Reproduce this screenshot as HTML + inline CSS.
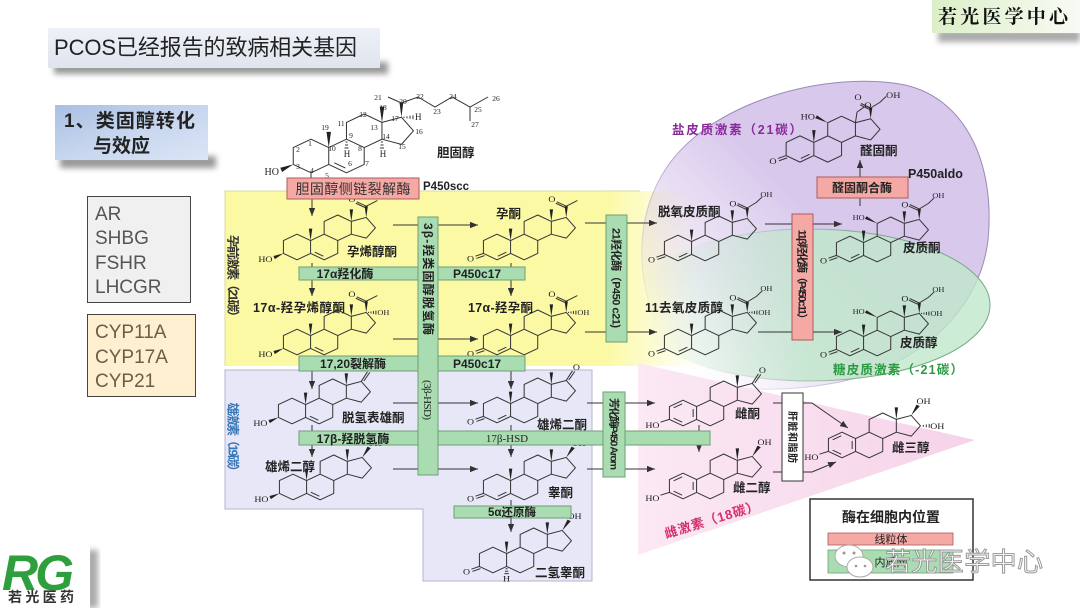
<!DOCTYPE html>
<html><head><meta charset="utf-8"><style>
html,body{margin:0;padding:0;background:#fff;}
svg{display:block}
.lb{font-family:"Liberation Sans","Noto Sans CJK SC",sans-serif;font-weight:bold;font-size:12.5px;fill:#222}
.en{font-family:"Liberation Sans","Noto Sans CJK SC",sans-serif;font-weight:bold;font-size:12px;fill:#222}
.a{font-family:"Liberation Serif",serif;font-size:10px;fill:#222}
.n{font-family:"Liberation Serif",serif;font-size:7.5px;fill:#222;text-anchor:middle}
.g{font-family:"Liberation Sans",sans-serif;font-size:19px;fill:#555}
</style></head><body>
<svg width="1080" height="608" viewBox="0 0 1080 608" xmlns="http://www.w3.org/2000/svg">
<defs>
<filter id="bl" x="-20%" y="-80%" width="140%" height="260%"><feGaussianBlur stdDeviation="3"/></filter>
<marker id="ah" viewBox="0 0 10 8" refX="10" refY="4" markerWidth="8" markerHeight="6.4" orient="auto" markerUnits="userSpaceOnUse"><path d="M0,0L10,4L0,8Z" fill="#333"/></marker>
<linearGradient id="gy" gradientUnits="userSpaceOnUse" x1="225" y1="0" x2="700" y2="0"><stop offset="0" stop-color="#fbf9a4"/><stop offset=".8" stop-color="#fbf9a4"/><stop offset="1" stop-color="#fbf9a4" stop-opacity="0"/></linearGradient>
<linearGradient id="gp" gradientUnits="userSpaceOnUse" x1="650" y1="330" x2="790" y2="190"><stop offset="0" stop-color="#d8c8ec" stop-opacity="0"/><stop offset="1" stop-color="#d8c8ec"/></linearGradient>
<linearGradient id="gps" gradientUnits="userSpaceOnUse" x1="650" y1="330" x2="790" y2="190"><stop offset="0" stop-color="#9a88b8" stop-opacity="0"/><stop offset="1" stop-color="#9a88b8"/></linearGradient>
<linearGradient id="gg" gradientUnits="userSpaceOnUse" x1="640" y1="0" x2="810" y2="0"><stop offset="0" stop-color="#bfe7ca" stop-opacity="0"/><stop offset="1" stop-color="#bfe7ca"/></linearGradient>
<linearGradient id="ggs" gradientUnits="userSpaceOnUse" x1="700" y1="0" x2="880" y2="0"><stop offset="0" stop-color="#7aa88a" stop-opacity="0"/><stop offset="1" stop-color="#7aa88a"/></linearGradient>
<linearGradient id="gt" x1="0" y1="0" x2="1" y2="0"><stop offset="0" stop-color="#fbe9f4"/><stop offset="1" stop-color="#f6d2e9"/></linearGradient>
<linearGradient id="gtitle" x1="0" y1="0" x2="0" y2="1"><stop offset="0" stop-color="#eef1f7"/><stop offset="1" stop-color="#dfe4ee"/></linearGradient>
<linearGradient id="gblue" x1="0" y1="0" x2="1" y2="1"><stop offset="0" stop-color="#a9bfe3"/><stop offset=".5" stop-color="#c7d6ef"/><stop offset="1" stop-color="#dbe5f5"/></linearGradient>
<linearGradient id="glogo" x1="0" y1="0" x2="1" y2="0"><stop offset="0" stop-color="#dcefc8"/><stop offset="1" stop-color="#f8fbf4"/></linearGradient>

<path id="rg" d="M0,-16L13.86,-8L13.86,8L0,16L-13.86,8L-13.86,-8ZM13.86,-8L27.71,-16L41.57,-8L41.57,8L27.71,16L13.86,8M27.71,-16L27.71,-32L41.57,-40L55.43,-32L55.43,-16L41.57,-8M55.43,-32L70.65,-36.94L80.05,-24L70.65,-11.06L55.43,-16" fill="none" stroke="#333" stroke-width="1" stroke-linejoin="round" vector-effect="non-scaling-stroke"/>
<path id="m19" d="M13.86,-8L12.1,-23L15.6,-23Z" fill="#222"/>
<path id="m18" d="M55.43,-32L53.7,-47L57.2,-47Z" fill="#222"/>
<path id="d5" d="M18.2,6.5L26.9,11.5" stroke="#333" stroke-width="1" vector-effect="non-scaling-stroke"/>
<path id="d4" d="M0.85,11.47L9.51,6.47" stroke="#333" stroke-width="1" vector-effect="non-scaling-stroke"/>
<path id="k3" d="M-13.86,8L-22,11.5M-12.8,10.8L-21,14.3" stroke="#333" stroke-width="1" vector-effect="non-scaling-stroke"/>
<path id="w3" d="M-13.86,8L-24,11.2L-22.6,15.2Z" fill="#222"/>
<g id="ac"><path d="M70.65,-36.94L69,-51L72.3,-51Z" fill="#222"/><path d="M70.65,-51L61,-56.5M69.6,-49.2L60,-54.7M70.65,-51L82,-58" stroke="#333" stroke-width="1" fill="none" vector-effect="non-scaling-stroke"/></g>
<path id="h17" d="M73,-37.6v1.4M75.5,-38.2v2.6M78,-38.8v3.8M80.5,-39.4v5" stroke="#333" stroke-width="1" vector-effect="non-scaling-stroke"/>
<g id="cs"><path d="M70.65,-36.94L69,-50L72.3,-50Z" fill="#222"/><path d="M70.65,-50L61,-55.5M69.6,-48.2L60,-53.7M70.65,-50L80,-57L86,-64" stroke="#333" stroke-width="1" fill="none" vector-effect="non-scaling-stroke"/></g>
<path id="k17" d="M70.65,-36.94L77,-49M73.3,-37.5L79.4,-48.3" stroke="#333" stroke-width="1" vector-effect="non-scaling-stroke"/>
<path id="o17" d="M70.65,-36.94L76,-50.5L79.4,-48.6Z" fill="#222"/>
<path id="o11" d="M27.71,-32L16.9,-41L15.2,-37.6Z" fill="#222"/>
<path id="ar" d="M-0.85,-11.47L-9.51,-6.47M-9.51,6.47L-0.85,11.47M10.36,-5L10.36,5M-13.86,8L-23,11.5" stroke="#333" stroke-width="1" vector-effect="non-scaling-stroke"/>
<path id="h5" d="M12.8,11h2.1M12.2,14h3.3M11.6,17h4.5" stroke="#333" stroke-width="1" vector-effect="non-scaling-stroke"/>
<path id="h16" d="M83,-25.2v2.4M86,-25.8v3.6M89,-26.4v4.8" stroke="#333" stroke-width="1" vector-effect="non-scaling-stroke"/>
</defs>

<rect width="1080" height="608" fill="#fff"/>

<!-- title -->
<rect x="54" y="62" width="334" height="12" fill="#999" filter="url(#bl)"/>
<rect x="48" y="28" width="332" height="40" fill="url(#gtitle)"/>
<text x="54" y="55" font-family="Liberation Sans, Noto Sans CJK SC, sans-serif" font-size="22" fill="#222" textLength="303">PCOS已经报告的致病相关基因</text>

<rect x="60" y="156" width="156" height="12" fill="#999" filter="url(#bl)"/>
<rect x="55" y="105" width="153" height="55" fill="url(#gblue)"/>
<text x="64" y="127" font-family="Liberation Sans, Noto Sans CJK SC, sans-serif" font-size="19" font-weight="bold" fill="#222" textLength="131">1、类固醇转化</text>
<text x="93" y="152" font-family="Liberation Sans, Noto Sans CJK SC, sans-serif" font-size="19" font-weight="bold" fill="#222">与效应</text>

<!-- gene boxes -->
<rect x="87.5" y="196.5" width="103" height="106" fill="#f0f0f0" stroke="#444" stroke-width="1"/>
<text class="g" x="95" y="220">AR</text>
<text class="g" x="95" y="244">SHBG</text>
<text class="g" x="95" y="269">FSHR</text>
<text class="g" x="95" y="293">LHCGR</text>
<rect x="87.5" y="314.5" width="108" height="82" fill="#fdefcf" stroke="#444" stroke-width="1"/>
<text class="g" x="95" y="338" style="fill:#6a5e48">CYP11A</text>
<text class="g" x="95" y="363" style="fill:#6a5e48">CYP17A</text>
<text class="g" x="95" y="387" style="fill:#6a5e48">CYP21</text>

<!-- logos -->
<rect x="86" y="550" width="12" height="58" fill="#aaa" filter="url(#bl)"/>
<rect x="0" y="546" width="90" height="62" fill="#fff"/>
<text x="2" y="590" font-family="Liberation Sans, sans-serif" font-size="50" font-style="italic" font-weight="bold" fill="#2f9e3c" letter-spacing="-3">RG</text>
<text x="8" y="602" font-family="Liberation Sans, Noto Sans CJK SC, sans-serif" font-size="14" font-weight="bold" fill="#333" textLength="66">若光医药</text>

<rect x="938" y="30" width="142" height="12" fill="#aaa" filter="url(#bl)"/>
<rect x="932" y="0" width="148" height="33" fill="url(#glogo)"/>
<text x="938" y="23" font-family="Noto Serif CJK SC, serif" font-size="19" font-weight="bold" fill="#111" textLength="130">若光医学中心</text>

<!-- regions -->
<rect x="225" y="191" width="475" height="175" fill="url(#gy)"/>
<path d="M225,366V191H640" fill="none" stroke="#dcdaa0" stroke-width="1"/>
<path d="M700,380C645,340 620,240 665,170C710,100 830,70 905,85C970,100 995,170 988,240C980,310 920,365 840,382C790,392 735,392 700,380Z" fill="url(#gp)" stroke="url(#gps)" stroke-width="1"/>
<ellipse cx="810" cy="305" rx="180" ry="76" fill="url(#gg)" fill-opacity=".8" stroke="url(#ggs)" stroke-width="1"/>
<polygon points="638,363 975,440 638,555" fill="url(#gt)"/>
<path d="M225,370H592V581H423V509H225Z" fill="#e7e7f7" stroke="#b4b4cc" stroke-width="1"/>

<!-- arrows -->
<path d="M311,173V178" stroke="#333" stroke-width="1"/>
<g stroke="#333" stroke-width="1" fill="none" marker-end="url(#ah)">
<path d="M312,199V216"/>
<path d="M312,263V296"/>
<path d="M511,263V296"/>
<path d="M312,360V389"/>
<path d="M511,360V389"/>
<path d="M312,425V457"/>
<path d="M511,425V457"/>
<path d="M511,500V532"/>
<path d="M393,225H478"/>
<path d="M393,339H478"/>
<path d="M393,403H478"/>
<path d="M393,469H478"/>
<path d="M585,223H657"/>
<path d="M585,332H657"/>
<path d="M765,224H842"/>
<path d="M758,332H842"/>
<path d="M860,206V160"/>
<path d="M587,403H655"/>
<path d="M587,469H655"/>
<path d="M699,425V452"/>
<path d="M773,403H812L848,428"/>
<path d="M773,472H812L836,462"/>
</g>

<!-- cholesterol -->
<g transform="translate(311,156) scale(1.28,1.05)">
<use href="#rg"/><use href="#m19"/><use href="#m18"/><use href="#d5"/><use href="#w3"/>
</g>
<g stroke="#333" stroke-width="1" fill="none">
<path d="M401.4,103L388,97M401.4,103L418,97L435,107L452,97L470,107L488,97M470,107V121"/>
<path d="M404,116.6v1.4M407,116.2v2.2M410,115.8v3M413,115.4v3.8"/>
<path d="M345.5,142h2M345,145h3M344.5,148h4"/>
<path d="M381,142h2M380.5,145h3M380,148h4"/>
</g>
<path d="M401.4,117.2L399.6,103L403.2,103Z" fill="#222"/>
<text class="a" x="279" y="175" text-anchor="end">HO</text>
<text class="n" x="325" y="130">19</text><text class="n" x="310" y="146">1</text><text class="n" x="298" y="152">2</text>
<text class="n" x="298" y="169">3</text><text class="n" x="312" y="173">4</text><text class="n" x="327" y="178">5</text>
<text class="n" x="332" y="151">10</text><text class="n" x="350" y="166">6</text><text class="n" x="367" y="166">7</text>
<text class="n" x="360" y="151">8</text><text class="n" x="351" y="138">9</text><text class="n" x="341" y="126">11</text>
<text class="n" x="363" y="117">12</text><text class="n" x="374" y="130">13</text><text class="n" x="383" y="110">18</text>
<text class="n" x="386" y="139">14</text><text class="n" x="402" y="149">15</text><text class="n" x="419" y="134">16</text>
<text class="n" x="395" y="121">17</text><text class="n" x="403" y="104">20</text><text class="n" x="378" y="100">21</text>
<text class="n" x="420" y="99">22</text><text class="n" x="437" y="114">23</text><text class="n" x="453" y="99">24</text>
<text class="n" x="478" y="112">25</text><text class="n" x="496" y="101">26</text><text class="n" x="475" y="127">27</text>
<text class="a" x="347" y="157" text-anchor="middle" style="font-size:9px">H</text>
<text class="a" x="383" y="157" text-anchor="middle" style="font-size:9px">H</text>
<text class="a" x="415" y="120" style="font-size:9px">H</text>
<text class="lb" x="437" y="157">胆固醇</text>

<!-- molecules -->
<g transform="translate(297,247) scale(.98,.8)"><use href="#rg"/><use href="#m19"/><use href="#m18"/><use href="#d5"/><use href="#w3"/><use href="#ac"/>
<text class="a" x="-25" y="19" text-anchor="end">HO</text><text class="a" x="56" y="-56" text-anchor="middle">O</text></g>
<g transform="translate(497,247) scale(.98,.8)"><use href="#rg"/><use href="#m19"/><use href="#m18"/><use href="#d4"/><use href="#k3"/><use href="#ac"/>
<text class="a" x="-27" y="18" text-anchor="middle">O</text><text class="a" x="56" y="-56" text-anchor="middle">O</text></g>
<g transform="translate(297,342) scale(.98,.8)"><use href="#rg"/><use href="#m19"/><use href="#m18"/><use href="#d5"/><use href="#w3"/><use href="#ac"/><use href="#h17"/>
<text class="a" x="-25" y="19" text-anchor="end">HO</text><text class="a" x="56" y="-56" text-anchor="middle">O</text><text class="a" x="82" y="-34" style="font-size:8.5px">OH</text></g>
<g transform="translate(497,342) scale(.98,.8)"><use href="#rg"/><use href="#m19"/><use href="#m18"/><use href="#d4"/><use href="#k3"/><use href="#ac"/><use href="#h17"/>
<text class="a" x="-27" y="18" text-anchor="middle">O</text><text class="a" x="56" y="-56" text-anchor="middle">O</text><text class="a" x="82" y="-34" style="font-size:8.5px">OH</text></g>
<g transform="translate(678,248) scale(.98,.8)"><use href="#rg"/><use href="#m19"/><use href="#m18"/><use href="#d4"/><use href="#k3"/><use href="#cs"/>
<text class="a" x="-27" y="18" text-anchor="middle">O</text><text class="a" x="56" y="-52" text-anchor="middle">O</text><text class="a" x="84" y="-64" style="font-size:8.5px">OH</text></g>
<g transform="translate(678,342) scale(.98,.8)"><use href="#rg"/><use href="#m19"/><use href="#m18"/><use href="#d4"/><use href="#k3"/><use href="#cs"/><use href="#h17"/>
<text class="a" x="-27" y="18" text-anchor="middle">O</text><text class="a" x="56" y="-52" text-anchor="middle">O</text><text class="a" x="84" y="-64" style="font-size:8.5px">OH</text><text class="a" x="82" y="-34" style="font-size:8.5px">OH</text></g>
<g transform="translate(850,249) scale(.98,.8)"><use href="#rg"/><use href="#m19"/><use href="#m18"/><use href="#d4"/><use href="#k3"/><use href="#cs"/><use href="#o11"/>
<text class="a" x="-27" y="18" text-anchor="middle">O</text><text class="a" x="56" y="-52" text-anchor="middle">O</text><text class="a" x="84" y="-64" style="font-size:8.5px">OH</text><text class="a" x="15" y="-36" text-anchor="end" style="font-size:8.5px">HO</text></g>
<g transform="translate(850,343) scale(.98,.8)"><use href="#rg"/><use href="#m19"/><use href="#m18"/><use href="#d4"/><use href="#k3"/><use href="#cs"/><use href="#o11"/><use href="#h17"/>
<text class="a" x="-27" y="18" text-anchor="middle">O</text><text class="a" x="56" y="-52" text-anchor="middle">O</text><text class="a" x="84" y="-64" style="font-size:8.5px">OH</text><text class="a" x="15" y="-36" text-anchor="end" style="font-size:8.5px">HO</text><text class="a" x="82" y="-34" style="font-size:8.5px">OH</text></g>
<g transform="translate(800,149) scale(1,.82)"><use href="#rg"/><use href="#m19"/><use href="#d4"/><use href="#k3"/><use href="#cs"/><use href="#o11"/>
<path d="M55.43,-32L57,-45L64,-51" fill="none" stroke="#333" stroke-width="1" vector-effect="non-scaling-stroke"/>
<text class="a" x="-27" y="18" text-anchor="middle">O</text><text class="a" x="68" y="-50" text-anchor="middle">O</text><text class="a" x="58" y="-60" text-anchor="middle">O</text><text class="a" x="86" y="-62">OH</text><text class="a" x="15" y="-36" text-anchor="end">HO</text></g>

<g transform="translate(292,411) scale(.98,.8)"><use href="#rg"/><use href="#m19"/><use href="#m18"/><use href="#d5"/><use href="#w3"/><use href="#k17"/>
<text class="a" x="-25" y="19" text-anchor="end">HO</text><text class="a" x="81" y="-50" text-anchor="middle">O</text></g>
<g transform="translate(497,410) scale(.98,.8)"><use href="#rg"/><use href="#m19"/><use href="#m18"/><use href="#d4"/><use href="#k3"/><use href="#k17"/>
<text class="a" x="-27" y="18" text-anchor="middle">O</text><text class="a" x="81" y="-50" text-anchor="middle">O</text></g>
<g transform="translate(293,487) scale(.98,.8)"><use href="#rg"/><use href="#m19"/><use href="#m18"/><use href="#d5"/><use href="#w3"/><use href="#o17"/>
<text class="a" x="-25" y="19" text-anchor="end">HO</text><text class="a" x="76" y="-51">OH</text></g>
<g transform="translate(497,487) scale(.98,.8)"><use href="#rg"/><use href="#m19"/><use href="#m18"/><use href="#d4"/><use href="#k3"/><use href="#o17"/>
<text class="a" x="-27" y="18" text-anchor="middle">O</text><text class="a" x="76" y="-51">OH</text></g>
<g transform="translate(493,560) scale(.98,.8)"><use href="#rg"/><use href="#m19"/><use href="#m18"/><use href="#k3"/><use href="#o17"/><use href="#h5"/>
<text class="a" x="-27" y="18" text-anchor="middle">O</text><text class="a" x="76" y="-51">OH</text><text class="a" x="13.86" y="27" text-anchor="middle">H</text></g>

<g transform="translate(683,413) scale(.98,.8)"><use href="#rg"/><use href="#m18"/><use href="#ar"/><use href="#k17"/>
<text class="a" x="-24" y="19" text-anchor="end">HO</text><text class="a" x="81" y="-50" text-anchor="middle">O</text></g>
<g transform="translate(683,486) scale(.98,.8)"><use href="#rg"/><use href="#m18"/><use href="#ar"/><use href="#o17"/>
<text class="a" x="-24" y="19" text-anchor="end">HO</text><text class="a" x="76" y="-51">OH</text></g>
<g transform="translate(842,445) scale(.98,.8)"><use href="#rg"/><use href="#m18"/><use href="#ar"/><use href="#o17"/><use href="#h16"/>
<text class="a" x="-24" y="19" text-anchor="end">HO</text><text class="a" x="76" y="-51">OH</text><text class="a" x="90" y="-20">OH</text></g>

<!-- enzyme bars -->
<g stroke="#6f9f74" stroke-width="1" fill="#aadcb2">
<rect x="299" y="267" width="226" height="13"/>
<rect x="299" y="356" width="226" height="15"/>
<rect x="299" y="431" width="411" height="14"/>
<rect x="454" y="506" width="117" height="12"/>
<rect x="418" y="217" width="20" height="258"/>
<rect x="606" y="215" width="21" height="127"/>
<rect x="603" y="392" width="22" height="85"/>
</g>
<text class="en" x="345" y="278" text-anchor="middle">17α羟化酶</text>
<text class="en" x="453" y="278">P450c17</text>
<text class="en" x="353" y="368" text-anchor="middle">17,20裂解酶</text>
<text class="en" x="453" y="368">P450c17</text>
<text class="en" x="353" y="443" text-anchor="middle">17β-羟脱氢酶</text>
<text x="507" y="442" text-anchor="middle" font-family="Liberation Serif, serif" font-size="11" fill="#222">17β-HSD</text>
<text class="en" x="512" y="516" text-anchor="middle" style="font-size:11.5px">5α还原酶</text>
<text class="en" transform="translate(423.8,279) rotate(90)" text-anchor="middle" textLength="112">3β-羟类固醇脱氢酶</text>
<text transform="translate(424.2,400) rotate(90)" text-anchor="middle" font-family="Liberation Serif, serif" font-size="11" fill="#222" textLength="40">(3β-HSD)</text>
<text class="en" transform="translate(612.6,278) rotate(90)" text-anchor="middle" style="font-size:11px" textLength="100">21羟化酶（P450 c21)</text>
<text class="en" transform="translate(610.5,434) rotate(90)" text-anchor="middle" style="font-size:10.5px" textLength="72">芳化酶P450 Arom</text>

<!-- pink boxes -->
<g stroke="#b05a5a" stroke-width="1" fill="#f4a9a5">
<rect x="287" y="178" width="132" height="21"/>
<rect x="817" y="177" width="91" height="21"/>
<rect x="792" y="214" width="21" height="126"/>
</g>
<text x="353" y="194" text-anchor="middle" font-family="Liberation Sans, Noto Sans CJK SC, sans-serif" font-size="14" fill="#333" textLength="115">胆固醇侧链裂解酶</text>
<text class="en" x="423" y="190" style="font-size:11.5px">P450scc</text>
<text class="en" x="862" y="192" text-anchor="middle">醛固酮合酶</text>
<text class="en" x="908" y="178" style="font-size:12.5px">P450aldo</text>
<text class="en" transform="translate(798.7,277) rotate(90)" text-anchor="middle" style="font-size:11px" textLength="95">11β羟化酶（P450c11）</text>

<!-- liver box -->
<rect x="782" y="393" width="21" height="88" fill="#fff" stroke="#333" stroke-width="1"/>
<text class="en" transform="translate(789,437) rotate(90)" text-anchor="middle" style="font-size:10px" textLength="52">肝脏和脂肪</text>

<!-- structure labels -->
<text class="lb" x="347" y="256">孕烯醇酮</text>
<text class="lb" x="496" y="218">孕酮</text>
<text class="lb" x="253" y="312" textLength="92">17α-羟孕烯醇酮</text>
<text class="lb" x="468" y="312" textLength="65">17α-羟孕酮</text>
<text class="lb" x="658" y="216">脱氧皮质酮</text>
<text class="lb" x="645" y="312" textLength="78">11去氧皮质醇</text>
<text class="lb" x="903" y="252">皮质酮</text>
<text class="lb" x="900" y="347">皮质醇</text>
<text class="lb" x="860" y="155">醛固酮</text>
<text class="lb" x="672" y="134" style="fill:#8a2a9a" textLength="130">盐皮质激素（21碳）</text>
<text class="lb" x="833" y="374" style="fill:#2a9a40" textLength="130">糖皮质激素（-21碳）</text>
<text class="lb" x="342" y="422">脱氢表雄酮</text>
<text class="lb" x="537" y="429">雄烯二酮</text>
<text class="lb" x="265" y="471">雄烯二醇</text>
<text class="lb" x="548" y="497">睾酮</text>
<text class="lb" x="535" y="577">二氢睾酮</text>
<text class="lb" x="735" y="418">雌酮</text>
<text class="lb" x="733" y="492">雌二醇</text>
<text class="lb" x="892" y="452">雌三醇</text>
<text class="lb" transform="translate(713,524) rotate(-17)" text-anchor="middle" style="fill:#d4306e;font-size:13px" textLength="98">雌激素（18碳）</text>
<text class="lb" transform="translate(228.6,279) rotate(90)" text-anchor="middle" style="fill:#333" textLength="88">孕前激素（21碳）</text>
<text class="lb" transform="translate(228.6,440) rotate(90)" text-anchor="middle" style="fill:#3878b8" textLength="75">雄激素（19碳）</text>

<!-- legend -->
<rect x="810" y="499" width="163" height="81" fill="#fff" stroke="#333" stroke-width="1.5"/>
<text x="891" y="522" text-anchor="middle" font-family="Liberation Sans, Noto Sans CJK SC, sans-serif" font-size="14" font-weight="bold" fill="#222">酶在细胞内位置</text>
<rect x="828" y="533" width="125" height="12" fill="#f4a9a5" stroke="#b05a5a" stroke-width=".8"/>
<text x="891" y="543" text-anchor="middle" font-family="Liberation Sans, Noto Sans CJK SC, sans-serif" font-size="11" fill="#222">线粒体</text>
<rect x="828" y="550" width="125" height="23" fill="#aadcb2" stroke="#6f9f74" stroke-width=".8"/>
<text x="891" y="566" text-anchor="middle" font-family="Liberation Sans, Noto Sans CJK SC, sans-serif" font-size="11" fill="#222">内质网</text>
<ellipse cx="849" cy="556" rx="14" ry="11" fill="#fff" stroke="#aaa" stroke-width="1"/>
<ellipse cx="860" cy="567" rx="13" ry="10" fill="#fff" stroke="#aaa" stroke-width="1"/>
<circle cx="844" cy="553" r="1.5" fill="#999"/><circle cx="854" cy="553" r="1.5" fill="#999"/>
<circle cx="856" cy="566" r="1.3" fill="#999"/><circle cx="865" cy="566" r="1.3" fill="#999"/>
<text x="885" y="571" font-family="Liberation Sans, Noto Sans CJK SC, sans-serif" font-size="26" fill="#fff" stroke="#999" stroke-width="1" textLength="158">若光医学中心</text>
</svg>
</body></html>
